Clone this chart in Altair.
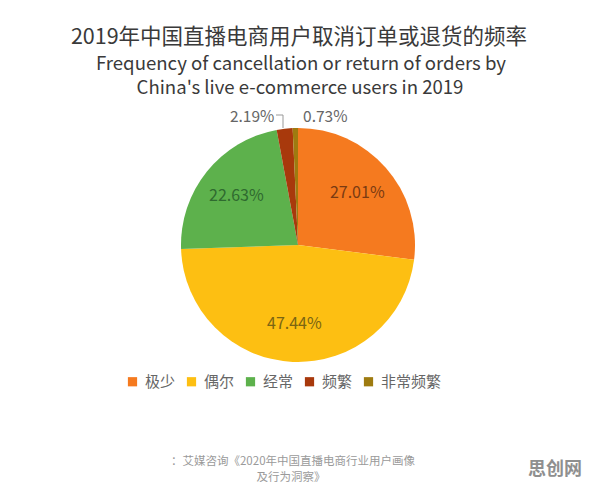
import altair as alt
import pandas as pd

categories = ["极少", "偶尔", "经常", "频繁", "非常频繁"]
values = [27.01, 47.44, 22.63, 2.19, 0.73]
colors = ["#F57A1F", "#FDBF12", "#5DB14C", "#A8390C", "#9E7B10"]
inner_label_colors = ["#7A3A12", "#7A6512", "#2F6A2F", "#666666", "#666666"]
title_cn = "2019年中国直播电商用户取消订单或退货的频率"
title_en = ["Frequency of cancellation or return of orders by", "China's live e-commerce users in 2019"]
source_lines = ["：艾媒咨询《2020年中国直播电商行业用户画像", "及行为洞察》"]
watermark = "思创网"

labels = [f"{v:.2f}%" for v in values]
df = pd.DataFrame({
    "cat": categories,
    "value": values,
    "order": list(range(len(categories))),
    "lab": labels,
    "labcol": inner_label_colors,
    "inlab": [l if v > 10 else "" for l, v in zip(labels, values)],
    "lab_left": [l if c == "频繁" else "" for l, c in zip(labels, categories)],
    "lab_right": [l if c == "非常频繁" else "" for l, c in zip(labels, categories)],
})

FONT = "Noto Sans CJK SC"
CX, CY, R = 290, 237, 117

base = alt.Chart(df).encode(
    theta=alt.Theta("value:Q", stack=True),
    order=alt.Order("order:Q"),
    x=alt.value(CX),
    y=alt.value(CY),
)

pie = base.mark_arc(outerRadius=R, stroke=None).encode(
    color=alt.Color(
        "cat:N",
        scale=alt.Scale(domain=categories, range=colors),
        sort=categories,
        legend=alt.Legend(
            title=None,
            orient="none",
            legendX=117,
            legendY=366,
            direction="horizontal",
            symbolType="square",
            symbolSize=85,
            symbolStrokeWidth=0,
            labelFontSize=15,
            labelFont=FONT,
            labelColor="#666666",
            columnPadding=8,
            labelOffset=5,
            padding=0,
        ),
    )
)

inner = base.mark_text(radius=79, fontSize=16, font=FONT).encode(
    text="inlab:N",
    color=alt.Color("labcol:N", scale=None),
)

outer_left = base.mark_text(radius=128, fontSize=15.5, font=FONT, align="right", dx=-9, dy=-1,
                            color="#666666").encode(text="lab_left:N")
outer_right = base.mark_text(radius=128, fontSize=15.5, font=FONT, align="left", dx=8, dy=0,
                             color="#666666").encode(text="lab_right:N")

leader_h = alt.Chart(df.head(1)).mark_rule(color="#999999", strokeWidth=1).encode(
    x=alt.value(268), x2=alt.value(275), y=alt.value(107))
leader_v = alt.Chart(df.head(1)).mark_rule(color="#999999", strokeWidth=1).encode(
    x=alt.value(275), y=alt.value(107), y2=alt.value(120))

t1 = alt.Chart(pd.DataFrame({"t": [title_cn]})).mark_text(
    fontSize=21.5, font=FONT, color="#3a3a3a", align="center", baseline="middle"
).encode(text="t:N", x=alt.value(291), y=alt.value(30))
t2 = alt.Chart(pd.DataFrame({"t": [title_en[0]]})).mark_text(
    fontSize=18.6, font=FONT, color="#3a3a3a", align="center", baseline="middle"
).encode(text="t:N", x=alt.value(293), y=alt.value(56))
t3 = alt.Chart(pd.DataFrame({"t": [title_en[1]]})).mark_text(
    fontSize=18.6, font=FONT, color="#3a3a3a", align="center", baseline="middle"
).encode(text="t:N", x=alt.value(292), y=alt.value(80))

s1 = alt.Chart(pd.DataFrame({"t": [source_lines[0]]})).mark_text(
    fontSize=11.5, font=FONT, color="#9a9a9a", align="center", baseline="middle"
).encode(text="t:N", x=alt.value(285), y=alt.value(454))
s2 = alt.Chart(pd.DataFrame({"t": [source_lines[1]]})).mark_text(
    fontSize=11.5, font=FONT, color="#9a9a9a", align="center", baseline="middle"
).encode(text="t:N", x=alt.value(283), y=alt.value(470))

wm = alt.Chart(pd.DataFrame({"t": [watermark]})).mark_text(
    fontSize=18, font=FONT, fontWeight="bold", color="#8f8f8f", align="right", baseline="middle"
).encode(text="t:N", x=alt.value(574), y=alt.value(462))

chart = alt.layer(
    pie, inner, outer_left, outer_right, leader_h, leader_v, t1, t2, t3, s1, s2, wm
).properties(
    width=580,
    height=480,
    autosize=alt.AutoSizeParams(type="none"),
    padding=0,
    background="white",
).configure_view(stroke=None)

chart.save("out.html", embed_options={"renderer": "svg", "actions": False})
